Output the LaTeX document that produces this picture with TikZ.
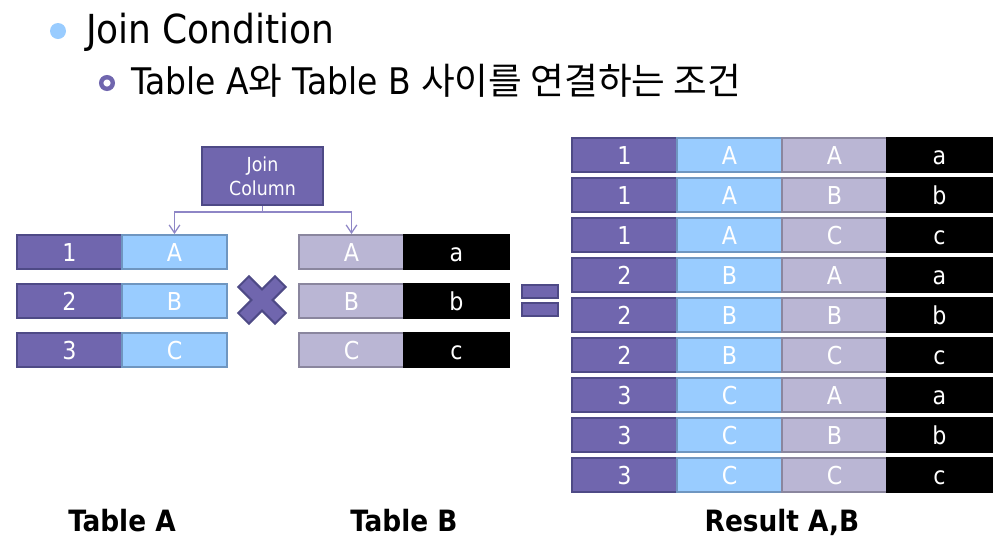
\documentclass[tikz,border=0pt]{standalone}
\usepackage{fontspec}
\setmainfont{DejaVu Sans Condensed}
\newfontfamily\krfont{Noto Sans CJK KR}
\usetikzlibrary{arrows.meta}
\definecolor{jpurple}{HTML}{7066AE}
\definecolor{jpurpled}{HTML}{4E4A86}
\definecolor{jblue}{HTML}{99CCFF}
\definecolor{jblued}{HTML}{6F96C0}
\definecolor{jlav}{HTML}{BAB6D4}
\definecolor{jlavd}{HTML}{8A869E}
\definecolor{jarrow}{HTML}{8E86C6}
\begin{document}
\begin{tikzpicture}[x=0.75pt,y=-0.75pt,line width=1.5pt,
	cell/.style={rectangle,minimum width=78.75pt,minimum height=25.5pt,inner sep=0pt,text height=13.5pt,text depth=0pt,text=white,font=\fontsize{18.5}{20}\selectfont},
	cnum/.style={cell,fill=jpurple,draw=jpurpled},
	ckey/.style={cell,fill=jblue,draw=jblued},
	cfk/.style={cell,fill=jlav,draw=jlavd},
	cval/.style={cell,fill=black,draw=black},
	caption/.style={anchor=base,inner sep=0pt,font=\fontsize{22}{24}\selectfont\bfseries}]
	\useasboundingbox (0,0) rectangle (1006,537);
	% headings
	\fill[jblue] (58,31) circle (8);
	\node[anchor=base west,inner sep=0pt,font=\fontsize{30}{33}\selectfont] (title) at (85,43) {Join Condition};
	\draw[jpurple,line width=3.3pt] (107,83) circle (5.8);
	\node[anchor=base west,inner sep=0pt,font=\fontsize{27.5}{30}\selectfont] (sub) at (130,94) {Table A{\krfont 와} Table B {\krfont 사이를 연결하는 조건}};
	% Table A and Table B
	\foreach \n/\l/\s [count=\i] in {1/A/a,2/B/b,3/C/c}{
		\node[cnum] (a\i n) at (69.5,{252+49*(\i-1)}) {\n};
		\node[ckey] (a\i k) at (174.5,{252+49*(\i-1)}) {\l};
		\node[cfk] (b\i k) at (351.5,{252+49*(\i-1)}) {\l};
		\node[cval] (b\i v) at (456.5,{252+49*(\i-1)}) {\s};
	}
	\node[rectangle,fill=jpurple,draw=jpurpled,minimum width=90.75pt,minimum height=43.5pt,align=center,text=white,font=\fontsize{14.5}{18}\selectfont] (jc) at (262.5,176) {Join\\Column};
	\draw[jarrow,line width=0.9pt,-{Straight Barb[length=6pt,width=8pt]}] (jc.south) -- ++(0,6) coordinate (jm) -| (a1k.north);
	\draw[jarrow,line width=0.9pt,-{Straight Barb[length=6pt,width=8pt]}] (jm) -| (b1k.north);
	% cross and equals
	\draw[fill=jpurple,draw=jpurpled,rotate around={45:(262,300)}] (254.5,274) -- (269.5,274) -- (269.5,292.5) -- (288,292.5) -- (288,307.5) -- (269.5,307.5) -- (269.5,326) -- (254.5,326) -- (254.5,307.5) -- (236,307.5) -- (236,292.5) -- (254.5,292.5) -- cycle;
	\draw[fill=jpurple,draw=jpurpled] (522,285) rectangle (558,298);
	\draw[fill=jpurple,draw=jpurpled] (522,303) rectangle (558,316);
	% result
	\foreach \i/\p in {1/A,2/B,3/C}{
		\foreach \j/\q/\s in {1/A/a,2/B/b,3/C/c}{
			\pgfmathtruncatemacro\r{3*(\i-1)+\j}
			\node[cnum] (r\r n) at (624.5,{155+40*(\r-1)}) {\i};
			\node[ckey] (r\r k) at (729.5,{155+40*(\r-1)}) {\p};
			\node[cfk] (r\r f) at (834.5,{155+40*(\r-1)}) {\q};
			\node[cval] (r\r v) at (939.5,{155+40*(\r-1)}) {\s};
		}
	}
	% captions
	\node[caption] (capa) at (122,531) {Table A};
	\node[caption] (capb) at (404,531) {Table B};
	\node[caption] (capr) at (782,531) {Result A,B};
\end{tikzpicture}
\end{document}
